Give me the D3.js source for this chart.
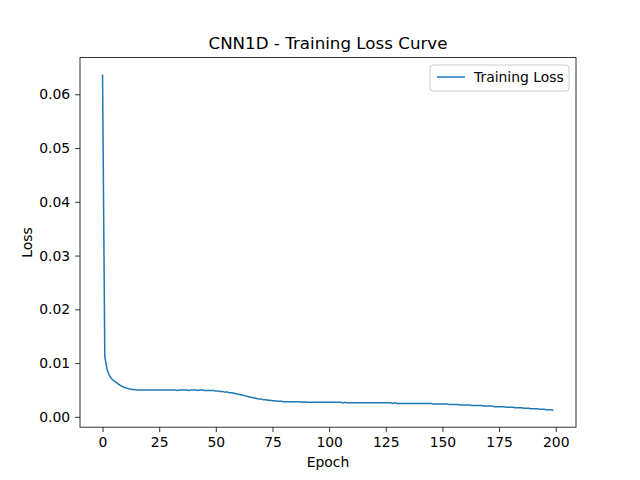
<!DOCTYPE html>
<html>
<head>
<meta charset="utf-8">
<script src="https://cdn.jsdelivr.net/npm/d3@7"></script>
<style>
  body { margin: 0; background: #fff; }
  text { font-family: "DejaVu Sans", sans-serif; }
</style>
</head>
<body>
<svg id="chart" width="640" height="480"></svg>
<script>
// training loss per epoch
const loss = [
  0.0637, 0.0112, 0.0088, 0.0077, 0.0071, 0.0067, 0.0064, 0.0061, 0.0058, 0.0056,
  0.0054, 0.0053, 0.0052, 0.0051, 0.0051, 0.0050, 0.0050, 0.0050, 0.0050, 0.0050,
  0.0050, 0.0050, 0.0050, 0.0050, 0.0050, 0.0050, 0.0050, 0.0050, 0.0050, 0.0050,
  0.0050, 0.0050, 0.0050, 0.0049, 0.0050, 0.0050, 0.0050, 0.0050, 0.0049, 0.0050,
  0.0050, 0.0050, 0.0049, 0.0050, 0.0050, 0.0049, 0.0049, 0.0049, 0.0049, 0.0049,
  0.0048, 0.0048, 0.0047, 0.0047, 0.0046, 0.0046, 0.0045, 0.0045, 0.0044, 0.0043,
  0.0042, 0.0041, 0.0040, 0.0039, 0.0038, 0.0037, 0.0036, 0.0035, 0.0034, 0.0033,
  0.0033, 0.0032, 0.0032, 0.0031, 0.0031, 0.0030, 0.0030, 0.0029, 0.0029, 0.0029,
  0.0028, 0.0028, 0.0028, 0.0028, 0.0028, 0.0028, 0.0028, 0.0028, 0.0027, 0.0028,
  0.0027, 0.0027, 0.0027, 0.0027, 0.0027, 0.0027, 0.0027, 0.0027, 0.0027, 0.0027,
  0.0027, 0.0027, 0.0027, 0.0027, 0.0027, 0.0027, 0.0026, 0.0027, 0.0026, 0.0026,
  0.0026, 0.0026, 0.0026, 0.0026, 0.0026, 0.0026, 0.0026, 0.0026, 0.0026, 0.0026,
  0.0026, 0.0026, 0.0026, 0.0026, 0.0026, 0.0026, 0.0026, 0.0026, 0.0025, 0.0026,
  0.0025, 0.0025, 0.0025, 0.0025, 0.0025, 0.0025, 0.0025, 0.0025, 0.0025, 0.0025,
  0.0025, 0.0025, 0.0025, 0.0025, 0.0025, 0.0025, 0.0024, 0.0024, 0.0024, 0.0024,
  0.0024, 0.0024, 0.0024, 0.0023, 0.0023, 0.0023, 0.0023, 0.0023, 0.0022, 0.0022,
  0.0022, 0.0022, 0.0022, 0.0021, 0.0021, 0.0021, 0.0021, 0.0021, 0.0020, 0.0020,
  0.0020, 0.0020, 0.0020, 0.0019, 0.0019, 0.0019, 0.0019, 0.0019, 0.0018, 0.0018,
  0.0018, 0.0018, 0.0017, 0.0017, 0.0017, 0.0017, 0.0016, 0.0016, 0.0016, 0.0015,
  0.0015, 0.0015, 0.0015, 0.0014, 0.0014, 0.0014, 0.0013, 0.0013, 0.0013, 0.0012
];
const xTicks = [0, 25, 50, 75, 100, 125, 150, 175, 200];
const yTicks = [0, 0.01, 0.02, 0.03, 0.04, 0.05, 0.06];

const mLeft = 80, mRight = 576, mTop = 57.6, mBottom = 427.2;
const svg = d3.select("#chart");

const n = loss.length - 1;
const x = d3.scaleLinear().domain([-0.05 * n, n * 1.05]).range([mLeft, mRight]);
const ymin = d3.min(loss), ymax = d3.max(loss), pad = (ymax - ymin) * 0.05;
const y = d3.scaleLinear().domain([ymin - pad, ymax + pad]).range([mBottom, mTop]);

svg.append("path")
  .datum(loss)
  .attr("fill", "none")
  .attr("stroke", "#1f77b4")
  .attr("stroke-width", 1.5)
  .attr("d", d3.line().x((d, i) => x(i)).y(d => y(d)));

svg.append("rect")
  .attr("x", mLeft).attr("y", mTop)
  .attr("width", mRight - mLeft).attr("height", mBottom - mTop)
  .attr("fill", "none").attr("stroke", "#000").attr("stroke-width", 0.8);

const xAxis = svg.append("g").attr("transform", `translate(0,${mBottom})`)
  .call(d3.axisBottom(x).tickValues(xTicks).tickSize(4.9).tickPadding(4.9).tickFormat(d3.format("d")));
const yAxis = svg.append("g").attr("transform", `translate(${mLeft},0)`)
  .call(d3.axisLeft(y).tickValues(yTicks).tickSize(4.9).tickPadding(4.9).tickFormat(d3.format(".2f")));
[xAxis, yAxis].forEach(a => {
  a.select(".domain").remove();
  a.selectAll("text").attr("font-size", 13.9).attr("fill", "#000")
    .style("font-family", "DejaVu Sans, sans-serif");
  a.selectAll("line").attr("stroke-width", 0.8);
});

svg.append("text").attr("x", (mLeft + mRight) / 2).attr("y", 49)
  .attr("text-anchor", "middle").attr("font-size", 16.7).text("CNN1D - Training Loss Curve");
svg.append("text").attr("x", (mLeft + mRight) / 2).attr("y", 467)
  .attr("text-anchor", "middle").attr("font-size", 13.9).text("Epoch");
svg.append("text").attr("transform", `translate(32,${(mTop + mBottom) / 2}) rotate(-90)`)
  .attr("text-anchor", "middle").attr("font-size", 13.9).text("Loss");

// legend
const lg = svg.append("g");
lg.append("rect").attr("x", 430).attr("y", 65).attr("width", 139).attr("height", 26)
  .attr("rx", 3).attr("fill", "#fff").attr("stroke", "#ccc");
lg.append("line").attr("x1", 437).attr("x2", 465).attr("y1", 77).attr("y2", 77)
  .attr("stroke", "#1f77b4").attr("stroke-width", 1.5);
lg.append("text").attr("x", 474).attr("y", 82).attr("font-size", 13.9).text("Training Loss");
</script>
</body>
</html>
